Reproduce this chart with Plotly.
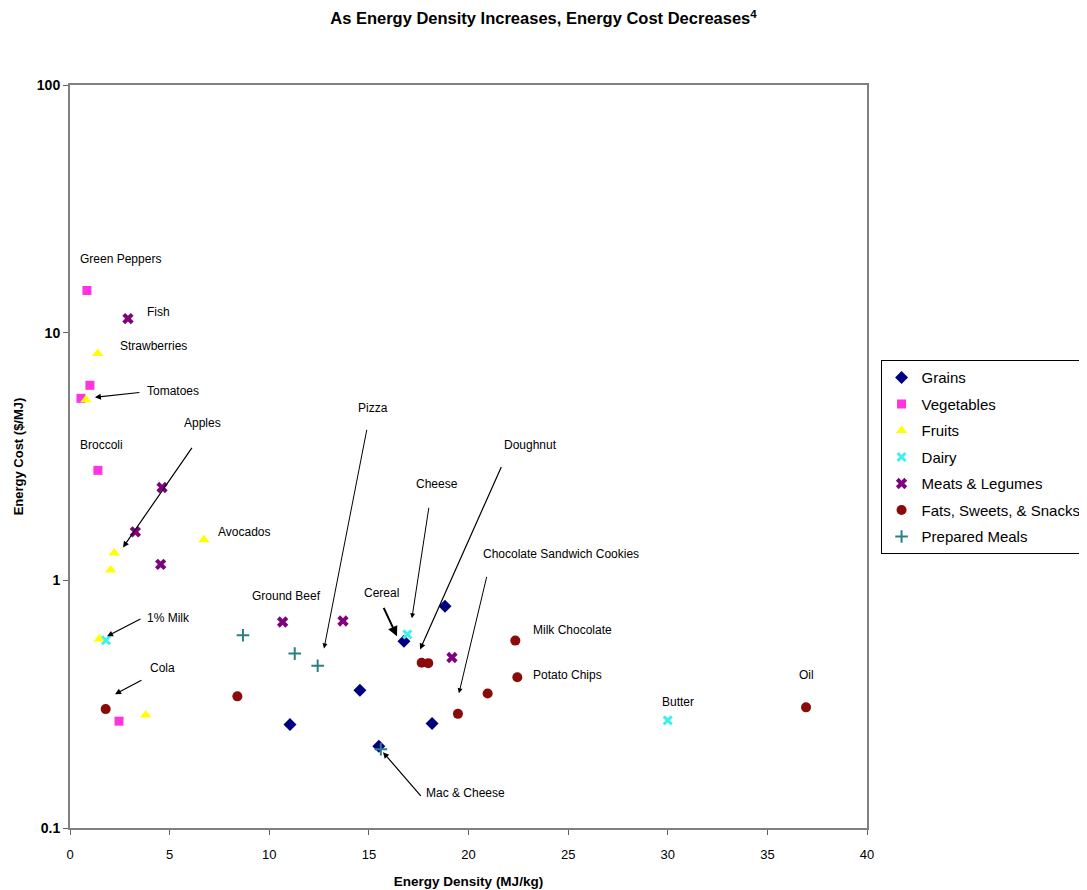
import plotly.graph_objects as go

# ---- data ----
grains_x = [11.04, 14.55, 15.5, 16.76, 18.82, 18.17]
grains_y = [0.262, 0.36, 0.214, 0.567, 0.786, 0.264]

veg_x = [0.85, 1.0, 0.55, 1.4, 2.46]
veg_y = [14.8, 6.13, 5.43, 2.78, 0.27]

fruit_x = [1.39, 0.8, 2.22, 2.04, 6.72, 1.47, 3.8]
fruit_y = [8.23, 5.36, 1.29, 1.10, 1.46, 0.58, 0.286]

dairy_x = [1.81, 16.93, 30.0]
dairy_y = [0.573, 0.605, 0.272]

meat_x = [2.91, 4.62, 3.28, 4.55, 10.67, 13.7, 19.17]
meat_y = [11.4, 2.37, 1.57, 1.16, 0.679, 0.685, 0.488]

fats_x = [1.79, 8.4, 17.65, 17.98, 19.47, 20.96, 22.35, 22.45, 36.94]
fats_y = [0.302, 0.34, 0.465, 0.463, 0.289, 0.349, 0.571, 0.406, 0.307]

prep_x = [8.68, 11.28, 12.43, 15.6]
prep_y = [0.60, 0.506, 0.452, 0.208]

x_ticks = [0, 5, 10, 15, 20, 25, 30, 35, 40]
y_ticks = [0.1, 1, 10, 100]
y_tick_text = ["0.1", "1", "10", "100"]

# label text, left x (data), log10 y
labels = [
    ("Green Peppers", 0.40, 1.296),
    ("Fish", 3.76, 1.082),
    ("Strawberries", 2.41, 0.945),
    ("Tomatoes", 3.76, 0.763),
    ("Broccoli", 0.40, 0.545),
    ("Apples", 5.62, 0.634),
    ("Avocados", 7.33, 0.194),
    ("1% Milk", 3.76, -0.153),
    ("Cola", 3.91, -0.355),
    ("Ground Beef", 9.03, -0.065),
    ("Pizza", 14.35, 0.694),
    ("Cereal", 14.65, -0.052),
    ("Cheese", 17.26, 0.388),
    ("Doughnut", 21.68, 0.545),
    ("Chocolate Sandwich Cookies", 20.63, 0.105),
    ("Milk Chocolate", 23.14, -0.202),
    ("Potato Chips", 23.14, -0.384),
    ("Butter", 29.61, -0.493),
    ("Oil", 36.49, -0.384),
    ("Mac & Cheese", 17.77, -0.860),
]

# arrows: tail x, tail log10 y, head x, head log10 y, width
arrows = [
    (3.56, 0.759, 1.25, 0.739, 1.2),
    (6.17, 0.541, 2.66, 0.133, 1.2),
    (3.61, -0.153, 1.86, -0.226, 1.2),
    (3.66, -0.400, 2.26, -0.460, 1.2),
    (14.91, 0.614, 12.75, -0.275, 1.0),
    (15.71, -0.105, 16.41, -0.226, 2.0),
    (18.02, 0.299, 17.16, -0.153, 1.0),
    (21.68, 0.464, 17.57, -0.279, 1.2),
    (20.93, 0.020, 19.52, -0.456, 1.0),
    (17.67, -0.876, 15.71, -0.694, 1.2),
]

FONT = "Arial, Liberation Sans, sans-serif"

fig = go.Figure()

def add(name, xs, ys, symbol, color, size, lw=0):
    fig.add_trace(go.Scatter(
        x=xs, y=ys, mode="markers", name=name, legendgroup=name,
        marker=dict(symbol=symbol, color=color, size=size,
                    line=dict(width=lw, color=color)),
    ))

add("Grains", grains_x, grains_y, "diamond", "#000080", 10)
add("Vegetables", veg_x, veg_y, "square", "#FF33E0", 9)
add("Fruits", fruit_x, fruit_y, "triangle-up", "#FFFF00", 10)
add("Dairy", dairy_x, dairy_y, "x-thin", "#40F0F0", 8, 3)
add("Meats & Legumes", meat_x, meat_y, "x", "#800080", 10)
add("Fats, Sweets, & Snacks", fats_x, fats_y, "circle", "#8B0A0A", 10)
add("Prepared Meals", prep_x, prep_y, "cross-thin", "#2A8080", 9, 2)

for t, x, y in labels:
    fig.add_annotation(x=x, y=y, xref="x", yref="y", text=t, showarrow=False,
                       xanchor="left", yanchor="middle",
                       font=dict(family=FONT, size=12, color="#000000"))

for tx, ty, hx, hy, w in arrows:
    fig.add_annotation(x=hx, y=hy, ax=tx, ay=ty, xref="x", yref="y",
                       axref="x", ayref="y", text="", showarrow=True,
                       arrowhead=2, arrowsize=1, arrowwidth=w,
                       arrowcolor="#000000")

fig.update_layout(
    width=1087, height=890,
    paper_bgcolor="white", plot_bgcolor="white",
    margin=dict(l=62, r=228, t=77, b=70, autoexpand=False),
    title=dict(text="<b>As Energy Density Increases, Energy Cost Decreases<sup>4</sup></b>",
               x=0.4926, xref="container", xanchor="center", yref="container",
               y=0.988, yanchor="middle",
               font=dict(family=FONT, size=16.5, color="#000000")),
    font=dict(family=FONT, color="#000000"),
    showlegend=True,
    legend=dict(x=1.017, xanchor="left", y=0.499, yanchor="middle",
                bgcolor="white", bordercolor="#000000", borderwidth=1,
                font=dict(family=FONT, size=15, color="#000000"),
                itemwidth=30, tracegroupgap=4, traceorder="grouped"),
)

fig.update_xaxes(
    range=[0, 40], tickvals=x_ticks, showgrid=False, zeroline=False,
    showline=True, mirror=True, linecolor="#808080", linewidth=2,
    ticks="outside", ticklen=5, tickcolor="#606060", ticklabelstandoff=8,
    tickfont=dict(family=FONT, size=13, color="#000000"),
    title=dict(text="<b>Energy Density (MJ/kg)</b>",
               font=dict(family=FONT, size=13.5, color="#000000"), standoff=16),
)
fig.update_yaxes(
    type="log", range=[-1, 2], tickvals=y_ticks,
    ticktext=["<b>" + t + "</b>" for t in y_tick_text],
    showgrid=False, zeroline=False,
    showline=True, mirror=True, linecolor="#808080", linewidth=2,
    ticks="outside", ticklen=5, tickcolor="#606060",
    tickfont=dict(family=FONT, size=14, color="#000000"),
    title=dict(text="<b>Energy Cost ($/MJ)</b>",
               font=dict(family=FONT, size=13, color="#000000"), standoff=10),
)

fig.write_html("out.html")
